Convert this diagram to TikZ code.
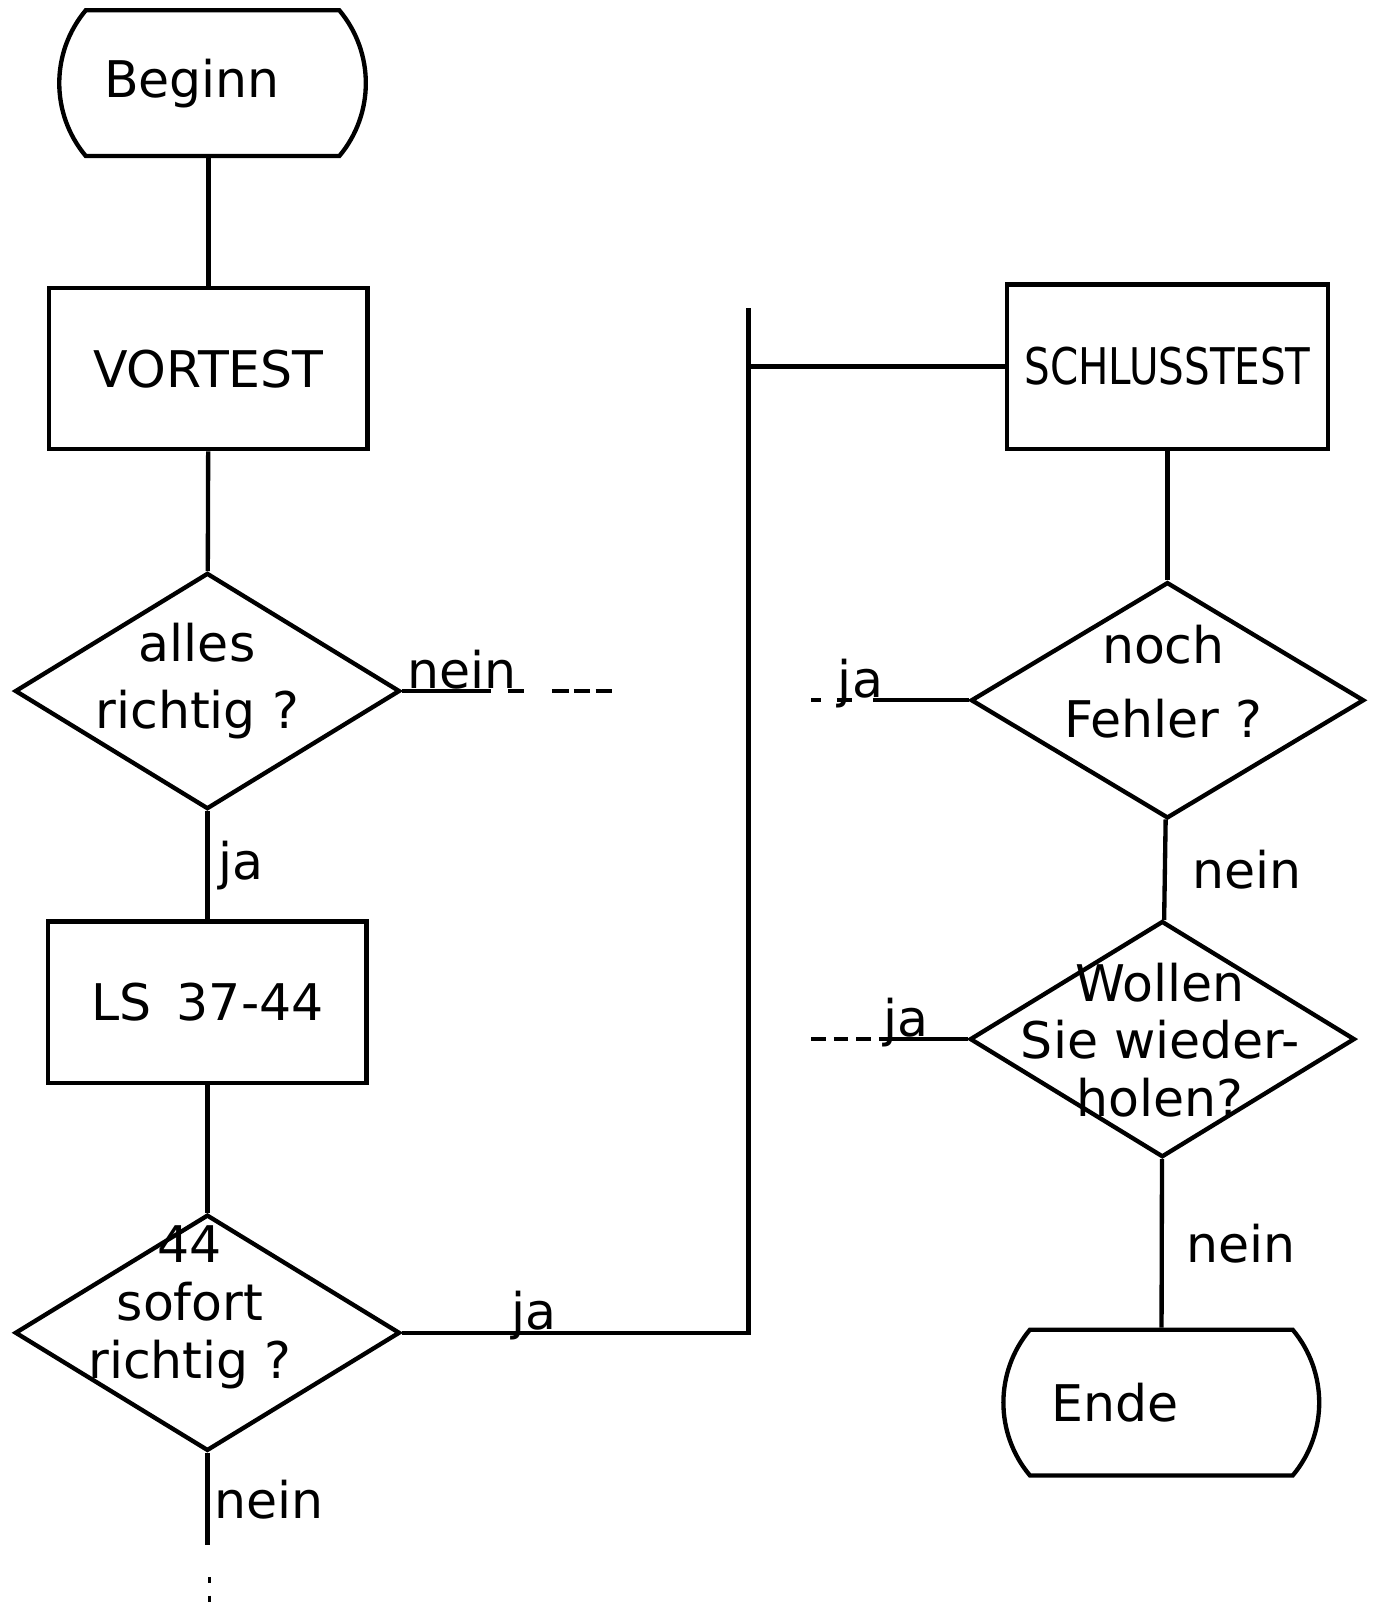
\documentclass[tikz,border=0pt]{standalone}
\usepackage{fontspec}
\setmainfont{DejaVu Sans}
\usepackage{graphicx}
\usetikzlibrary{
  positioning,
  shapes.geometric,
  shapes.misc
}

\begin{document}
\begin{tikzpicture}[
      line width=1.2pt,
      every node/.style={font=\fontsize{14}{16}\selectfont},
      grenze/.style={draw, rounded rectangle, rounded rectangle arc length=80,
                     minimum width=3.22cm, minimum height=1.42cm},
      kasten/.style={draw, rectangle, minimum width=3.1cm, minimum height=1.57cm},
      frage/.style={draw, diamond, inner sep=0pt,
                    minimum width=3.75cm, minimum height=2.3cm},
      fragetext/.style={align=center, inner sep=0pt},
      antwort/.style={inner sep=0pt}
  ]
      \useasboundingbox (0,0) rectangle (13.40,-15.68);

      % Linke Spalte
      \node[grenze] (beginn) at (2.07,-0.81) {Beginn\kern4mm};
      \node[kasten] (vortest) at (2.03,-3.59) {\raisebox{-1.2mm}{VORTEST}};
      \node[frage] (d1) at (2.02,-6.73) {};
      \node[fragetext] (d1t) at (1.92,-6.63) {alles\\[2.5pt]richtig ?};
      \node[kasten] (ls) at (2.02,-9.76) {LS\enspace 37-44};
      \node[frage] (d2) at (2.02,-12.98) {};
      \node[fragetext] (d2t) at (1.85,-12.73) {44\\sofort\\richtig ?};

      % Rechte Spalte
      \node[kasten, minimum width=3.13cm, minimum height=1.6cm] (schluss) at (11.37,-3.57)
          {\scalebox{0.8}[1]{SCHLUSSTEST}};
      \node[frage, minimum width=3.83cm] (d3) at (11.37,-6.82) {};
      \node[fragetext] (d3t) at (11.33,-6.64) {noch\\[4.5pt]Fehler ?};
      \node[frage] (d4) at (11.32,-10.12) {};
      \node[fragetext] (d4t) at (11.30,-10.13) {Wollen\\Sie wieder-\\holen?};
      \node[grenze, minimum width=3.31cm] (ende) at (11.31,-13.66) {Ende\kern9mm};

      % Hilfspunkte
      \coordinate (knick) at (7.29,-12.98);
      \coordinate (oben)  at (7.29,-3.00);
      \coordinate (unten) at (2.02,-15.05);
      \coordinate (p1)    at (2.04,-15.36);
      \coordinate (p2)    at (2.04,-15.62);
      \coordinate (n1)    at (4.78,-6.73);
      \coordinate (n1a)   at (4.95,-6.73);
      \coordinate (n1e)   at (5.96,-6.73);
      \coordinate (j3)    at (8.50,-6.82);
      \coordinate (j3e)   at (7.90,-6.82);
      \coordinate (j4)    at (8.58,-10.12);
      \coordinate (j4e)   at (7.90,-10.12);

      % Verbindungen links
      \draw (vortest.north |- beginn.south) -- (vortest.north);
      \draw (vortest) -- (d1);
      \draw (d1) -- node[antwort, pos=0.5, right=0.9mm] {ja} (ls);
      \draw (ls) -- (d2);
      \draw (d2) -- node[antwort, pos=0.5, right=0.5mm] {nein} (unten);
      \draw[dash pattern=on 0.6mm off 1.2mm, line width=0.8pt] (p1) -- (p2);

      \draw (d1.east) -- (n1);
      \draw[dash pattern=on 1.5mm off 2.8mm on 1.6mm off 0.5mm on 1.6mm off 0.5mm on 1.6mm] (n1a) -- (n1e);
      \node[antwort, anchor=base west] (nein1) at (3.95,-6.71) {nein};

      % Sprung nach rechts
      \draw (d2) -- node[antwort, pos=0.31, anchor=base west, yshift=0.3mm] {ja} (knick) -- (oben);
      \draw (schluss.west) -- (schluss.west -| oben);

      % Verbindungen rechts
      \draw (schluss) -- (d3);
      \draw (d3) -- node[antwort, pos=0.5, right=2.5mm] {nein} (d4);
      \draw (d4) -- node[antwort, pos=0.5, right=2.2mm] {nein} (ende);

      \draw (d3.west) -- (j3);
      \draw[dash pattern=on 1mm off 1.5mm on 1.5mm off 2mm] (j3e) -- (j3);
      \node[antwort, anchor=base west] (ja3) at (8.14,-6.79) {ja};

      \draw (d4.west) -- (j4);
      \draw[dash pattern=on 1.4mm off 0.8mm] (j4e) -- (j4);
      \node[antwort, anchor=base west] (ja4) at (8.58,-10.09) {ja};
  \end{tikzpicture}
\end{document}
